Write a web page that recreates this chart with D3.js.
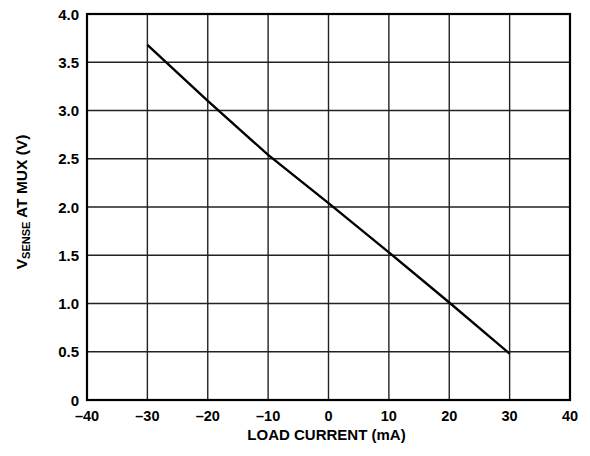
<!DOCTYPE html>
<html>
<head>
<meta charset="utf-8">
<script src="https://cdn.jsdelivr.net/npm/d3@7"></script>
<style>
  body { margin: 0; background: #fff; }
  text { font-family: "Liberation Sans", Arial, sans-serif; font-weight: bold; fill: #000; }
</style>
</head>
<body>
<svg id="chart" width="590" height="456"></svg>
<script>
// values
const loadCurrent = [-30, -20, -10, 0, 10, 20, 30];
const vSense = [3.68, 3.10, 2.54, 2.04, 1.53, 1.01, 0.48];
const xTicks = [-40, -30, -20, -10, 0, 10, 20, 30, 40];
const yTicks = [0, 0.5, 1.0, 1.5, 2.0, 2.5, 3.0, 3.5, 4.0];

const svg = d3.select("#chart");
const margin = {top: 14, right: 20, bottom: 56, left: 87};
const width = +svg.attr("width");
const height = +svg.attr("height");

const x = d3.scaleLinear()
  .domain([-40, 40])
  .range([margin.left, width - margin.right]);

const y = d3.scaleLinear()
  .domain([0, 4])
  .range([height - margin.bottom, margin.top]);

// grid
svg.append("g")
  .selectAll("line")
  .data(xTicks)
  .join("line")
  .attr("x1", d => x(d)).attr("x2", d => x(d))
  .attr("y1", y(0)).attr("y2", y(4))
  .attr("stroke", "#222")
  .attr("stroke-width", 1.4);

svg.append("g")
  .selectAll("line")
  .data(yTicks)
  .join("line")
  .attr("x1", x(-40)).attr("x2", x(40))
  .attr("y1", d => y(d)).attr("y2", d => y(d))
  .attr("stroke", "#222")
  .attr("stroke-width", 1.4);

// frame
svg.append("rect")
  .attr("x", x(-40)).attr("y", y(4))
  .attr("width", x(40) - x(-40))
  .attr("height", y(0) - y(4))
  .attr("fill", "none")
  .attr("stroke", "#000")
  .attr("stroke-width", 2.2);

// X-axis labels
svg.append("g")
  .selectAll("text")
  .data(xTicks)
  .join("text")
  .attr("x", d => x(d))
  .attr("y", y(0) + 21)
  .attr("text-anchor", "middle")
  .style("font-size", "14.5px")
  .text(d => d < 0 ? "\u2013" + Math.abs(d) : d);

// Y-axis labels
svg.append("g")
  .selectAll("text")
  .data(yTicks)
  .join("text")
  .attr("x", x(-40) - 8)
  .attr("y", d => y(d) + 5.5)
  .attr("text-anchor", "end")
  .style("font-size", "15px")
  .text(d => d === 0 ? "0" : d3.format(".1f")(d));

// curve
const line = d3.line()
  .x((d, i) => x(loadCurrent[i]))
  .y(d => y(d));

svg.append("path")
  .datum(vSense)
  .attr("d", line)
  .attr("fill", "none")
  .attr("stroke", "#000")
  .attr("stroke-width", 2.4);

// axis titles
svg.append("text")
  .attr("x", (x(-40) + x(40)) / 2 - 2)
  .attr("y", height - 16)
  .attr("text-anchor", "middle")
  .style("font-size", "15px")
  .text("LOAD CURRENT (mA)");

const yTitle = svg.append("text")
  .attr("transform", `translate(27, 202) rotate(-90)`)
  .attr("text-anchor", "middle")
  .style("font-size", "15.5px");
yTitle.append("tspan").text("V");
yTitle.append("tspan").attr("dy", 2.5).style("font-size", "11px").text("SENSE");
yTitle.append("tspan").attr("dy", -2.5).text(" AT MUX (V)");
</script>
</body>
</html>
